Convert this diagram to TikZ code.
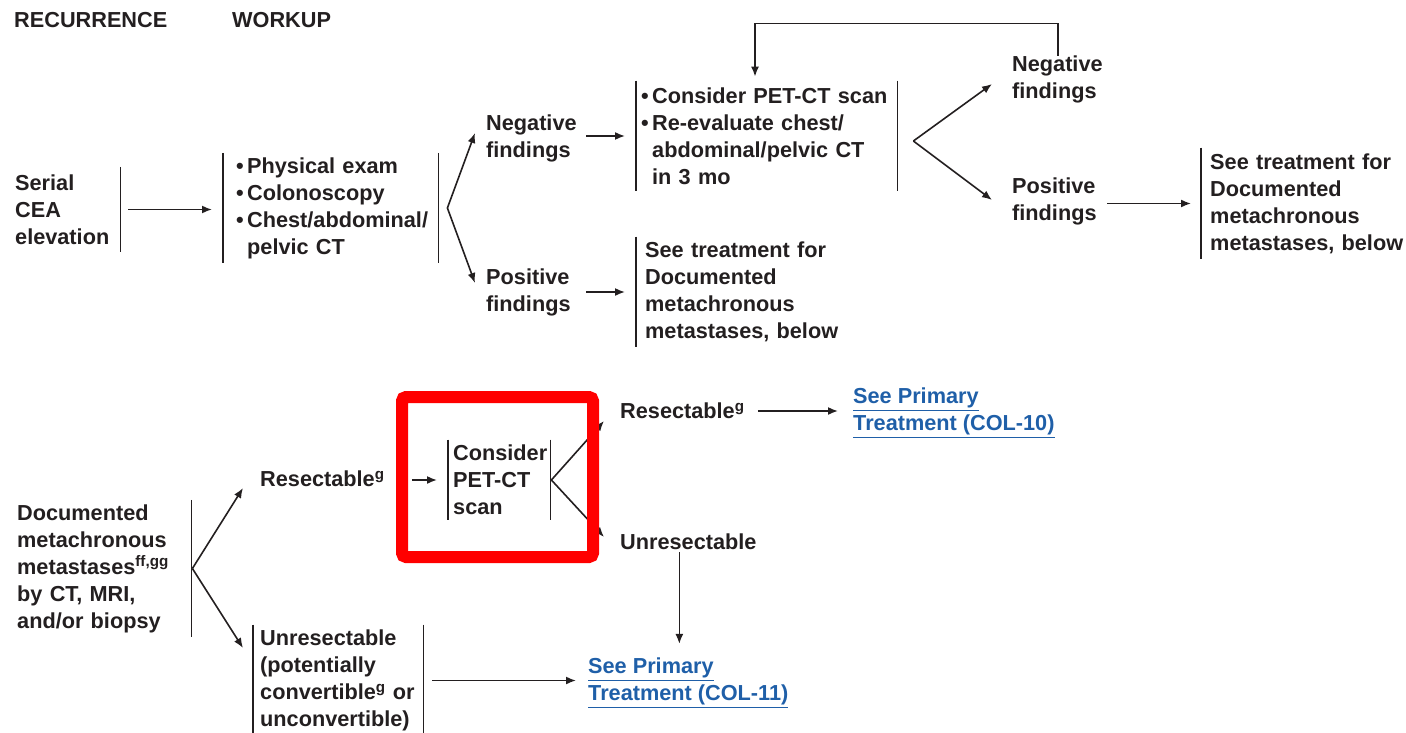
\documentclass[tikz,border=0pt]{standalone}
\usepackage{fontspec}
\setmainfont{Liberation Sans}
\usetikzlibrary{arrows.meta}
\definecolor{ink}{HTML}{231F20}
\definecolor{linkblue}{HTML}{1F5FA8}
\newcommand{\bl}{\makebox[11pt][l]{\textbullet}}
\newcommand{\ind}{\hspace*{11pt}}
\newcommand{\lnk}[1]{\textcolor{linkblue}{\underline{#1}}}
\begin{document}
\begin{tikzpicture}[x=1pt, y=-1pt,
    txt/.style={font=\bfseries\fontsize{21.7}{27}\selectfont, text=ink, align=left,
        anchor=west, inner xsep=0pt, inner ysep=0pt},
    find/.style={txt, text width=92pt},
    bar/.style={draw=ink, line width=1.8pt},
    arr/.style={draw=ink, line width=1.6pt, -{Latex[length=10pt,width=8pt]}},
    redbox/.style={draw=red, line width=12pt, rounded corners=4pt}]
    \useasboundingbox (0,0) rectangle (1406,733);
    % headers
    \node[txt] (hrec) at (14,20) {RECURRENCE};
    \node[txt] (hwork) at (232,20) {WORKUP};
    % recurrence row
    \node[txt, text width=105pt, inner ysep=7.5pt] (serial) at (15,209.5) {Serial\\CEA\\elevation};
    \node[txt, text width=189pt, inner xsep=13pt, inner ysep=4.4pt] (workup) at (223,208)
        {\bl Physical exam\\\bl Colonoscopy\\\bl Chest/abdominal/\\\ind pelvic CT};
    \node[find] (neg1) at (486,138.5) {Negative\\findings};
    \node[find] (pos1) at (486,292.5) {Positive\\findings};
    \node[txt, text width=251pt, inner xsep=5pt, inner ysep=6.7pt] (con1) at (636,136)
        {\bl Consider PET-CT scan\\\bl Re-evaluate chest/\\\ind abdominal/pelvic CT\\\ind in 3 mo};
    \node[txt, text width=200pt, inner xsep=9pt, inner ysep=5.2pt] (see1) at (636,292)
        {See treatment for\\Documented\\metachronous\\metastases, below};
    \node[find] (neg2) at (1012,79.5) {Negative\\findings};
    \node[find] (pos2) at (1012,201.5) {Positive\\findings};
    \node[txt, text width=195pt, inner xsep=9pt, inner ysep=5.7pt] (see2) at (1201,203.5)
        {See treatment for\\Documented\\metachronous\\metastases, below};
    % documented row
    \node[txt, text width=174pt, inner ysep=4.4pt] (doc) at (17,568.5)
        {Documented\\metachronous\\metastases\textsuperscript{ff,gg}\\by CT, MRI,\\and/or biopsy};
    \node[txt] (res1) at (260,479) {Resectable\textsuperscript{g}};
    \node[txt, text width=92pt, inner xsep=5pt, inner ysep=5.2pt] (con2) at (448,480)
        {Consider\\PET-CT\\scan};
    \node[txt] (res2) at (620,411) {Resectable\textsuperscript{g}};
    \node[txt] (unres2) at (620,542) {Unresectable};
    \node[txt] (col10) at (853,412.7) {\lnk{See Primary}\\\lnk{Treatment (COL-10)}};
    \node[txt, text width=156pt, inner xsep=7pt, inner ysep=5pt] (unres1) at (253,680.5)
        {Unresectable\\(potentially\\convertible\textsuperscript{g} or\\unconvertible)};
    \node[txt] (col11) at (588,682.7) {\lnk{See Primary}\\\lnk{Treatment (COL-11)}};
    % bars
    \draw[bar] (serial.north east) -- (serial.south east);
    \draw[bar] (workup.north west) -- (workup.south west);
    \draw[bar] (workup.north east) -- (workup.south east);
    \draw[bar] (con1.north west) -- (con1.south west);
    \draw[bar] (con1.north east) -- (con1.south east);
    \draw[bar] (see1.north west) -- (see1.south west);
    \draw[bar] (see2.north west) -- (see2.south west);
    \draw[bar] (doc.north east) -- (doc.south east);
    \draw[bar] (con2.north west) -- (con2.south west);
    \draw[bar] (con2.north east) -- (con2.south east);
    \draw[bar] (unres1.north west) -- (unres1.south west);
    \draw[bar] (unres1.north east) -- (unres1.south east);
    % arrows, top
    \draw[arr, shorten <=8pt, shorten >=11pt] (serial.east) -- (serial.east -| workup.west);
    \draw[arr] ([xshift=9pt]workup.east) -- ([xshift=-11pt,yshift=5.5pt]neg1.west);
    \draw[arr] ([xshift=9pt]workup.east) -- ([xshift=-11pt,yshift=9.5pt]pos1.west);
    \draw[arr, shorten <=8pt, shorten >=11pt] (con1.west -| neg1.east) -- (con1.west);
    \draw[arr, shorten <=8pt, shorten >=11pt] (see1.west -| pos1.east) -- (see1.west);
    \draw[arr] ([xshift=16pt,yshift=-5pt]con1.east) -- ([xshift=-20pt,yshift=-4.5pt]neg2.west);
    \draw[arr] ([xshift=16pt,yshift=-5pt]con1.east) -- ([xshift=-20pt,yshift=1.5pt]pos2.west);
    \draw[arr, shorten <=3pt, shorten >=10pt] (see2.west -| pos2.east) -- (see2.west);
    \draw[arr] (neg2.north) |- ([xshift=119pt,yshift=57pt]con1.north west)
        -- ([xshift=119pt,yshift=4pt]con1.north west);
    % arrows, bottom
    \draw[arr] ([xshift=1pt]doc.east) -- ([xshift=-17pt,yshift=-9pt]res1.west);
    \draw[arr] ([xshift=1pt]doc.east) -- ([xshift=-10pt,yshift=32.5pt]unres1.west);
    \draw[arr, shorten <=27pt, shorten >=11pt] (con2.west -| res1.east) -- (con2.west);
    \draw[arr] ([xshift=1pt]con2.east) -- ([xshift=-16pt,yshift=-10pt]res2.west);
    \draw[arr] ([xshift=1pt]con2.east) -- ([xshift=-16pt,yshift=5pt]unres2.west);
    \draw[arr, shorten <=13pt, shorten >=15pt] (res2.east) -- (res2.east -| col10.west);
    \draw[arr, shorten <=2pt, shorten >=14pt] ([xshift=-9pt]unres2.south) -- ([xshift=-9pt]unres2.south |- col11.north);
    \draw[arr, shorten <=9pt, shorten >=12pt] (unres1.east) -- (unres1.east -| col11.west);
    % highlight
    \draw[redbox] (402,397) rectangle (593,557);
\end{tikzpicture}
\end{document}
